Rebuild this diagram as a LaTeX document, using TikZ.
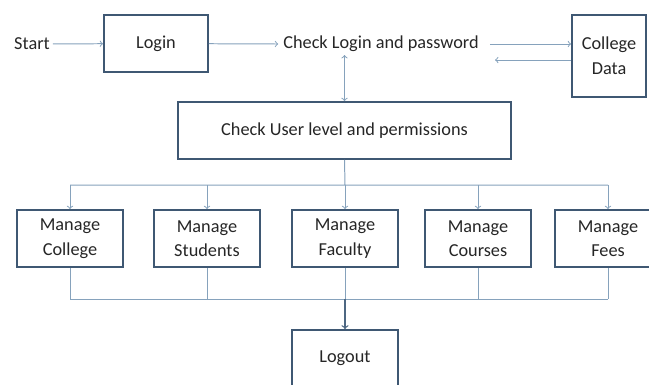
\documentclass[tikz,border=0pt]{standalone}
\usepackage{fontspec}
\setmainfont{Carlito}
\usepackage{tikz}
\usetikzlibrary{arrows,calc,positioning}
\definecolor{boxline}{HTML}{3F5873}
\definecolor{flowline}{HTML}{86A2BC}
\definecolor{txt}{HTML}{262626}
\tikzset{blk/.style={draw=boxline, line width=1.3pt, fill=white, rectangle, text=txt, align=center, minimum width=2.65cm, minimum height=1.425cm, inner sep=2pt}}
\tikzstyle{lbl}=[text=txt, inner sep=2pt]

\begin{document}
\begin{tikzpicture}[>=to, font=\fontsize{13}{17.5}\selectfont]
\clip (0,0) rectangle (16.225,-9.6);
\node[lbl] (Start) at (0.8,-1.1) {Start};
\node[blk, minimum width=2.6cm] (Login) at (3.9,-1.0875) {Login};
\node[lbl] (ChkLP) at (9.525,-1.1) {Check Login and password};
\node[blk, minimum width=1.85cm, minimum height=2.05cm] (CData) at (15.225,-1.4) {College\\Data};
\node[blk, minimum width=8.325cm] (ChkUL) at (8.6125,-3.2625) {Check User level and permissions};
\node[blk] (MCol) at (1.75,-5.9625) {Manage\\College};
\node[blk] (MStu) at (5.175,-5.9625) {Manage\\Students};
\node[blk] (MFac) at (8.625,-5.9625) {Manage\\Faculty};
\node[blk] (MCou) at (11.95,-5.9625) {Manage\\Courses};
\node[blk] (MFee) at (15.2,-5.9625) {Manage\\Fees};
\node[blk] (Logout) at (8.625,-8.9625) {Logout};
\coordinate (ret) at (12.375,-1.5);
\coordinate (bus) at (8.625,-4.625);
\coordinate (low) at (8.625,-7.475);
\path[->, draw=flowline, line width=0.7pt]
  (Start) edge (Login)
  (Login) edge ($(ChkLP.west)+(-0.05,0)$)
  ($(ChkLP.east)+(0.2,0)$) edge (ChkLP.east -| CData.west)
  (ret -| CData.west) edge (ret)
  (ChkLP.south -| ChkUL.north) edge (ChkUL.north);
% fan out to the managers
\draw[flowline, line width=0.7pt] (ChkUL.south) -- (bus) (MCol |- bus) -- (MFee |- bus);
\foreach \m in {MCol,MStu,MFac,MCou,MFee}
  \draw[->, flowline, line width=0.7pt] (\m |- bus) -- (\m.north);
% gather into logout
\foreach \m in {MCol,MStu,MFac,MCou,MFee}
  \draw[flowline, line width=0.7pt] (\m.south) -- (\m |- low);
\draw[flowline, line width=0.7pt] (MCol |- low) -- (MFee |- low);
\draw[->, boxline!80!flowline, line width=0.9pt] (low) -- (Logout.north);
\end{tikzpicture}
\end{document}
